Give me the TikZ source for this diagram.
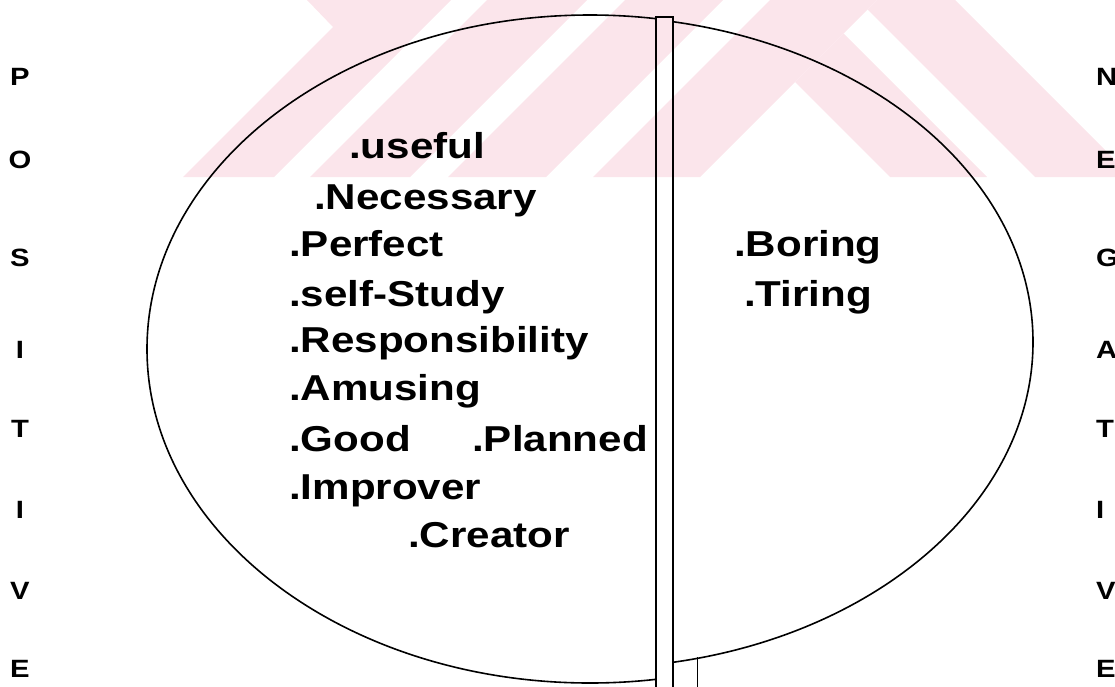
\documentclass[tikz,border=0pt]{standalone}
\usepackage{fontspec}
\newfontfamily\wordfont[FakeStretch=1.17]{Liberation Sans}
\definecolor{wmpink}{RGB}{251,229,235}
\tikzset{
  word/.style = {anchor=base west, inner sep=0pt,
    font=\wordfont\bfseries\fontsize{36}{36}\selectfont},
  side/.style = {inner sep=0pt,
    font=\wordfont\bfseries\fontsize{25}{25}\selectfont},
  rim/.style = {line width=1.6pt},
  bar/.style = {line width=2.2pt},
  wmark/.style = {fill=wmpink, draw=none}
}

\begin{document}
\begin{tikzpicture}[x=1pt, y=-1pt]
\useasboundingbox (0,0) rectangle (1115,686);
% faint stripes behind the top
\fill [wmark] (307,0) -- (451,0) -- (274,177) -- (183,177) -- (333,27) -- cycle;
\foreach \a/\b in {487/587, 625/723, 770/877}
  \fill [wmark] (\a,0) -- (\b,0) -- ({\b-177},177) -- ({\a-177},177) -- cycle;
\fill [wmark] (795,82) -- (843.5,33.5) -- (987,177) -- (890,177) -- cycle;
\fill [wmark] (867.5,9.5) -- (877,0) -- (955,0) -- (1132,177) -- (1035,177) -- cycle;
% oval, split by the bar
\begin{scope}
  \clip (0,0) rectangle (656,690);
  \draw [rim] (590,349) ellipse [x radius=443, y radius=334];
\end{scope}
\begin{scope}
  \clip (673,0) rectangle (1115,690);
  \draw [rim] (590,342) ellipse [x radius=443, y radius=326];
\end{scope}
\draw [bar] (656,692) -- (656,17) -- (673,17) -- (673,692);
\draw [line width=1pt] (697,657) -- (697,692);
% side labels
\foreach \txt/\y [count=\i] in {P/77, O/160, S/258, I/350, T/429, I/510, V/591, E/669}
  \node [side] (pos\i) at (20,\y) {\txt};
\foreach \txt/\y [count=\i] in {N/77, E/160, G/258, A/350, T/429, I/510, V/591, E/669}
  \node [side, anchor=west] (neg\i) at (1096,\y) {\txt};
% positive words
\node [word] (useful) at (349,158) {.useful};
\node [word] (necessary) at (314,209) {.Necessary};
\node [word] (perfect) at (289,256) {.Perfect};
\node [word] (selfstudy) at (289,306) {.self-Study};
\node [word] (respons) at (289,352) {.Responsibility};
\node [word] (amusing) at (289,400) {.Amusing};
\node [word] (good) at (289,451) {.Good};
\node [word] (planned) at (472,451) {.Planned};
\node [word] (improver) at (289,499) {.Improver};
\node [word] (creator) at (408,547) {.Creator};
% negative words
\node [word] (boring) at (734,256) {.Boring};
\node [word] (tiring) at (744,306) {.Tiring};
\end{tikzpicture}
\end{document}
